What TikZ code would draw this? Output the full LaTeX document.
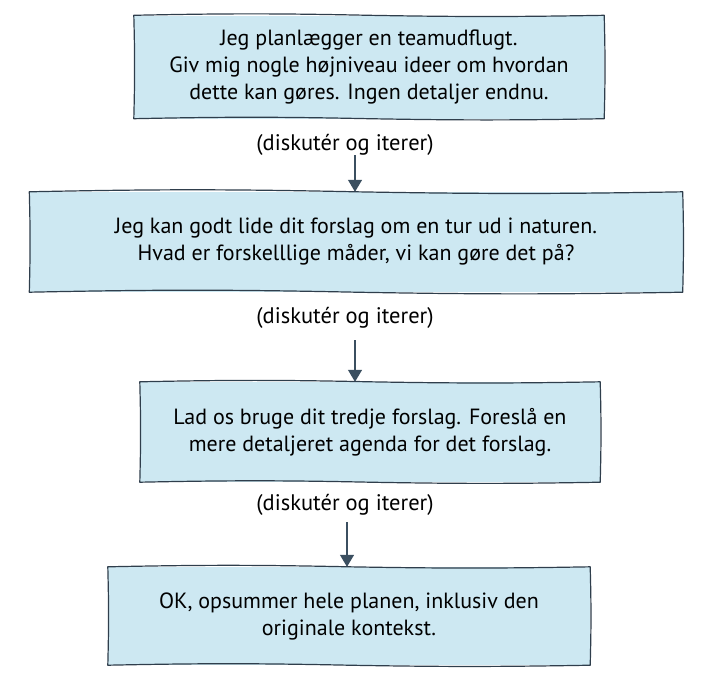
\documentclass[tikz,border=0pt]{standalone}
\usepackage{fontspec}
\setmainfont{PT Sans}
\usetikzlibrary{arrows.meta}
\definecolor{boxfill}{HTML}{CDE8F2}
\definecolor{boxline}{HTML}{2F3E4C}
\definecolor{arrowcol}{HTML}{3B4F60}
\tikzset{
  x=1pt,y=-1pt,
  stepbox/.style={fill=boxfill,
    align=center,font=\fontsize{22}{27}\selectfont,text=black,inner sep=0pt},
  edge/.style={draw=boxline,line width=1.2pt,line join=round},
  note/.style={font=\fontsize{22.5}{26}\selectfont,text=black,inner sep=0pt},
  flow/.style={draw=arrowcol,line width=1.3pt,-{Triangle[width=14pt,length=12pt]}}
}
\newcommand{\wobbly}[1]{%
  \draw[edge] (#1.north west) to[bend left=1.2] (#1.north) to[bend right=1] (#1.north east)
    to[bend left=1.5] (#1.south east) to[bend left=1] (#1.south) to[bend right=1.2] (#1.south west)
    to[bend right=1.5] cycle;}
\begin{document}
\begin{tikzpicture}
\useasboundingbox (0,0) rectangle (708,699);
\node[stepbox,minimum width=470pt,minimum height=103pt] (b1) at (369,67)
  {Jeg planlægger en teamudflugt.\\Giv mig nogle højniveau ideer om hvordan\\dette kan gøres. Ingen detaljer endnu.};
\wobbly{b1}
\node[note] (l1) at (345,145) {(diskutér og iterer)};
\node[stepbox,minimum width=653pt,minimum height=100pt] (b2) at (356,242)
  {Jeg kan godt lide dit forslag om en tur ud i naturen.\\Hvad er forskelllige måder, vi kan gøre det på?};
\wobbly{b2}
\node[note] (l2) at (345,318) {(diskutér og iterer)};
\node[stepbox,minimum width=460pt,minimum height=100pt] (b3) at (370,432)
  {Lad os bruge dit tredje forslag. Foreslå en\\mere detaljeret agenda for det forslag.};
\wobbly{b3}
\node[note] (l3) at (345,505) {(diskutér og iterer)};
\node[stepbox,minimum width=482pt,minimum height=98pt] (b4) at (349,616)
  {OK, opsummer hele planen, inklusiv den\\originale kontekst.};
\wobbly{b4}
\coordinate (a1) at (355,155);
\coordinate (a2) at (355,340);
\coordinate (a3) at (347,522);
\draw[flow] (a1) -- (a1 |- b2.north);
\draw[flow] (a2) -- (a2 |- b3.north);
\draw[flow] (a3) -- (a3 |- b4.north);
\end{tikzpicture}
\end{document}
